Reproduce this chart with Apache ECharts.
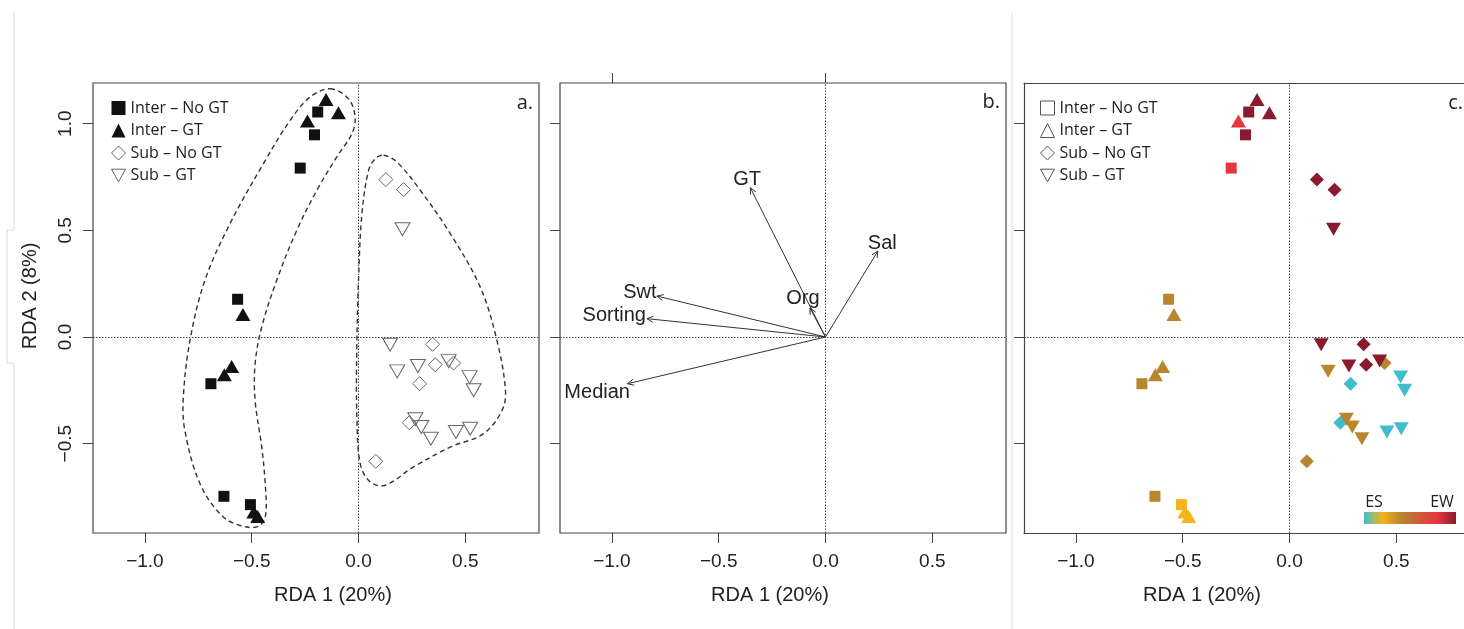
<!DOCTYPE html>
<html><head><meta charset="utf-8">
<script src="https://cdn.jsdelivr.net/npm/echarts@6/dist/echarts.min.js"></script>
<style>html,body{margin:0;padding:0;background:#fff}#c{width:1464px;height:629px}</style>
</head><body><div id="c"></div><script>
// ---------- data ----------
const groupNames = ['Inter – No GT', 'Inter – GT', 'Sub – No GT', 'Sub – GT'];
const xTicks = [-1, -0.5, 0, 0.5];
const yTicks = [-0.5, 0, 0.5, 1];
const xRange = [-1.243, 0.845];
const yRange = [-0.919, 1.191];

const interNoGT = [[-0.191,1.055],[-0.206,0.948],[-0.273,0.792],[-0.566,0.177],[-0.691,-0.219],[-0.630,-0.747],[-0.506,-0.786]];
const interGT = [[-0.152,1.114],[-0.094,1.052],[-0.239,1.013],[-0.541,0.105],[-0.594,-0.138],[-0.628,-0.177],[-0.490,-0.820],[-0.472,-0.842]];
const subNoGT = [[0.128,0.738],[0.211,0.691],[0.347,-0.034],[0.359,-0.130],[0.445,-0.122],[0.286,-0.219],[0.238,-0.402],[0.081,-0.583]];
const subGT = [[0.206,0.505],[0.148,-0.036],[0.181,-0.161],[0.278,-0.136],[0.422,-0.113],[0.520,-0.188],[0.539,-0.250],[0.266,-0.386],[0.294,-0.422],[0.339,-0.477],[0.456,-0.445],[0.523,-0.430]];

// position on the ES (0) -> EW (1) gradient, panel c
const interNoGTSeason = [1, 1, 0.8, 0.4, 0.4, 0.4, 0.2];
const interGTSeason = [1, 1, 0.8, 0.4, 0.4, 0.4, 0.2, 0.2];
const subNoGTSeason = [1, 1, 1, 1, 0.4, 0, 0, 0.4];
const subGTSeason = [1, 1, 0.4, 1, 1, 0, 0, 0.4, 0.4, 0.4, 0, 0];
const seasonColors = ['#3fbfcd', '#f5b31c', '#b6872d', '#cf5a3a', '#e8363f', '#8a1a2c'];

const hullInter = [[-0.133,1.164],[-0.047,1.117],[-0.016,1.031],[-0.031,0.953],[-0.102,0.844],[-0.195,0.688],[-0.289,0.5],[-0.383,0.266],[-0.453,0.047],[-0.484,-0.125],[-0.484,-0.297],[-0.453,-0.516],[-0.438,-0.672],[-0.434,-0.828],[-0.461,-0.883],[-0.523,-0.891],[-0.633,-0.844],[-0.742,-0.688],[-0.813,-0.438],[-0.82,-0.281],[-0.789,-0.016],[-0.719,0.266],[-0.602,0.531],[-0.445,0.813],[-0.320,1.016],[-0.227,1.125]];
const hullSub = [[0.117,0.852],[0.180,0.820],[0.289,0.688],[0.430,0.484],[0.570,0.234],[0.648,-0.016],[0.688,-0.25],[0.672,-0.344],[0.586,-0.453],[0.430,-0.516],[0.258,-0.609],[0.125,-0.695],[0.055,-0.68],[0.008,-0.594],[-0.008,-0.359],[-0.008,-0.047],[0,0.266],[0.016,0.578],[0.047,0.781],[0.078,0.836]];

const envVars = ['GT', 'Sal', 'Org', 'Swt', 'Sorting', 'Median'];
const envX = [-0.352, 0.245, -0.073, -0.789, -0.836, -0.927];
const envY = [0.700, 0.403, 0.136, 0.192, 0.086, -0.219];
const envLabelX = [-0.367, 0.266, -0.106, -0.869, -0.989, -1.069];
const envLabelY = [0.738, 0.440, 0.180, 0.208, 0.100, -0.258];

// ---------- chart ----------
const chart = echarts.init(document.getElementById('c'), null, {renderer: 'canvas'});
const fmt = v => (v < 0 ? '\u2212' : '') + Math.abs(v).toFixed(1);
const axisFont = 'Liberation Sans';
const ink = '#222';
const frame = '#444';

const gridBase = {top: 83, height: 450, backgroundColor: 'transparent', containLabel: false, outerBoundsMode: 'none'};
const grids = [
  Object.assign({left: 93, width: 446, show: true, borderColor: frame, borderWidth: 1.2}, gridBase),
  Object.assign({left: 560, width: 446, show: true, borderColor: frame, borderWidth: 1.2}, gridBase),
  Object.assign({left: 1024, width: 446, show: false}, gridBase)
];

function xAx(gi, line) {
  return {type: 'value', gridIndex: gi, min: xRange[0], max: xRange[1], position: 'bottom',
    axisLine: {show: !!line, onZero: false, lineStyle: {color: frame, width: 1.2}}, splitLine: {show: false},
    axisTick: {show: true, customValues: xTicks, length: 10, lineStyle: {color: '#444', width: 1}},
    axisLabel: {show: true, customValues: xTicks, formatter: fmt, margin: 19, fontSize: 19, fontFamily: axisFont, color: ink}};
}
function yAx(gi, labels, line) {
  return {type: 'value', gridIndex: gi, min: yRange[0], max: yRange[1], position: 'left',
    axisLine: {show: !!line, onZero: false, lineStyle: {color: frame, width: 1.2}}, splitLine: {show: false},
    axisTick: {show: true, customValues: yTicks, length: 10, lineStyle: {color: '#444', width: 1}},
    axisLabel: {show: labels, customValues: yTicks, formatter: fmt, rotate: 90, margin: 18, fontSize: 19, fontFamily: axisFont, color: ink}};
}
const xAxes = [xAx(0), xAx(1), xAx(2, true),
  {type: 'value', gridIndex: 1, min: xRange[0], max: xRange[1], position: 'top', axisLine: {show: false, onZero: false}, splitLine: {show: false},
   axisTick: {show: true, customValues: [-1, 0], length: 10, lineStyle: {color: '#444', width: 1}}, axisLabel: {show: false}},
  {type: 'value', gridIndex: 2, min: xRange[0], max: xRange[1], position: 'top', axisLine: {show: true, onZero: false, lineStyle: {color: frame, width: 1.2}}, splitLine: {show: false},
   axisTick: {show: false}, axisLabel: {show: false}}];
const yAxes = [yAx(0, true), yAx(1, false), yAx(2, false, true)];

const zeroLines = {silent: true, symbol: ['none', 'none'], label: {show: false}, animation: false,
  lineStyle: {type: [1.5, 1.5], color: '#444', width: 1}, emphasis: {disabled: true},
  data: [{xAxis: 0}, {yAxis: 0}]};

const openStyle = {color: 'rgba(255,255,255,0)', borderColor: '#666', borderWidth: 1, opacity: 1};
const shapes = [
  {symbol: 'rect', size: 11},
  {symbol: 'triangle', size: [15, 13]},
  {symbol: 'diamond', size: [14, 14]},
  {symbol: 'triangle', size: [15, 13], rotate: 180}
];
const groupsData = [interNoGT, interGT, subNoGT, subGT];
const groupsSeason = [interNoGTSeason, interGTSeason, subNoGTSeason, subGTSeason];

const series = [];
// hulls, panel a
const hulls = [hullInter, hullSub];
series.push({type: 'custom', xAxisIndex: 0, yAxisIndex: 0, silent: true, z: 1, data: [0, 1],
  renderItem: (params, api) => ({type: 'polygon',
    shape: {points: hulls[params.dataIndex].map(p => api.coord(p)), smooth: 0.35},
    style: {fill: 'none', stroke: '#333', lineWidth: 1.4, lineDash: [5, 3.5]}}),
  markLine: zeroLines});
// panel a points
groupsData.forEach((d, k) => {
  series.push({type: 'scatter', name: groupNames[k], xAxisIndex: 0, yAxisIndex: 0, data: d,
    symbol: shapes[k].symbol, symbolSize: shapes[k].size, symbolRotate: shapes[k].rotate || 0,
    itemStyle: k < 2 ? {color: '#111', opacity: 1} : openStyle, silent: true, z: 3});
});
// panel b arrows
series.push({type: 'custom', xAxisIndex: 1, yAxisIndex: 1, silent: true, z: 3,
  data: envX.map((x, i) => [x, envY[i], envLabelX[i], envLabelY[i]]),
  renderItem: (params, api) => {
    const o = api.coord([0, 0]);
    const t = api.coord([api.value(0), api.value(1)]);
    const lp = api.coord([api.value(2), api.value(3)]);
    const a = Math.atan2(t[1] - o[1], t[0] - o[0]);
    const h = 7, s = 0.45;
    return {type: 'group', children: [
      {type: 'line', shape: {x1: o[0], y1: o[1], x2: t[0], y2: t[1]}, style: {stroke: '#333', lineWidth: 1}},
      {type: 'polyline', shape: {points: [[t[0] - h * Math.cos(a - s), t[1] - h * Math.sin(a - s)], t, [t[0] - h * Math.cos(a + s), t[1] - h * Math.sin(a + s)]]},
       style: {stroke: '#333', fill: 'none', lineWidth: 1}},
      {type: 'text', style: {text: envVars[params.dataIndex], x: lp[0], y: lp[1], align: 'center', verticalAlign: 'middle',
        font: '20px "Liberation Sans"', fill: ink}}
    ]};
  },
  markLine: zeroLines});
// panel c points
const cIdx = [];
groupsData.forEach((d, k) => {
  cIdx.push(series.length);
  series.push({type: 'scatter', name: groupNames[k], xAxisIndex: 2, yAxisIndex: 2,
    data: d.map((p, i) => [p[0], p[1], groupsSeason[k][i]]), encode: {x: 0, y: 1},
    symbol: shapes[k].symbol, symbolSize: shapes[k].size, symbolRotate: shapes[k].rotate || 0,
    itemStyle: {opacity: 1},
    silent: true, z: 3, markLine: k === 0 ? zeroLines : undefined});
});

const legendIcons = ['rect', 'triangle', 'diamond', 'path://M0,0L10,0L5,9Z'];
const legendText = {fontSize: 16, fontFamily: 'Open Sans', color: ink};
const legends = [
  {left: 106, top: 95, orient: 'vertical', itemWidth: 14, itemHeight: 14, itemGap: 6.5, selectedMode: false, textStyle: legendText,
   data: groupNames.map((n, k) => ({name: n, icon: legendIcons[k], itemStyle: k < 2 ? {color: '#111', borderWidth: 0, opacity: 1} : openStyle}))},
  {left: 1035, top: 95, orient: 'vertical', itemWidth: 14, itemHeight: 14, itemGap: 6.5, itemTextGap: 4, selectedMode: false, textStyle: legendText,
   data: groupNames.map((n, k) => ({name: n, icon: legendIcons[k], itemStyle: {color: 'rgba(255,255,255,0)', borderColor: '#555', borderWidth: 1, opacity: 1}}))}
];

const txt = (x, y, s, font, align, rot) => ({type: 'text', x: x, y: y, silent: true, rotation: rot || 0,
  style: {text: s, font: font, fill: ink, align: align || 'center', verticalAlign: 'middle'}});

chart.setOption({
  animation: false,
  backgroundColor: '#fff',
  grid: grids, xAxis: xAxes, yAxis: yAxes, series: series, legend: legends,
  visualMap: {type: 'continuous', show: false, min: 0, max: 1, dimension: 2, seriesIndex: cIdx, inRange: {color: seasonColors}},
  graphic: [
    {type: 'polyline', silent: true, shape: {points: [[14, 12], [14, 230], [7, 230], [7, 363], [14, 363], [14, 629]]}, style: {stroke: '#dcdcdc', lineWidth: 1, fill: 'none'}},
    {type: 'line', silent: true, shape: {x1: 1012, y1: 12, x2: 1012, y2: 629}, style: {stroke: '#e2e2e2', lineWidth: 1}},
    txt(30, 296, 'RDA 2 (8%)', '20px "Liberation Sans"', 'center', Math.PI / 2),
    txt(333, 595, 'RDA 1 (20%)', '20px "Liberation Sans"'),
    txt(770, 595, 'RDA 1 (20%)', '20px "Liberation Sans"'),
    txt(1202, 595, 'RDA 1 (20%)', '20px "Liberation Sans"'),
    txt(533, 103, 'a.', '20px "Open Sans"', 'right'),
    txt(1000, 102, 'b.', '20px "Open Sans"', 'right'),
    txt(1463, 103, 'c.', '20px "Open Sans"', 'right'),
    txt(1374, 502, 'ES', '16px "Open Sans"'),
    txt(1442, 502, 'EW', '16px "Open Sans"'),
    {type: 'rect', silent: true, shape: {x: 1364, y: 512, width: 92, height: 12},
     style: {fill: new echarts.graphic.LinearGradient(0, 0, 1, 0, seasonColors.map((c, i) => ({offset: i / (seasonColors.length - 1), color: c})))}}
  ]
});
</script></body></html>
